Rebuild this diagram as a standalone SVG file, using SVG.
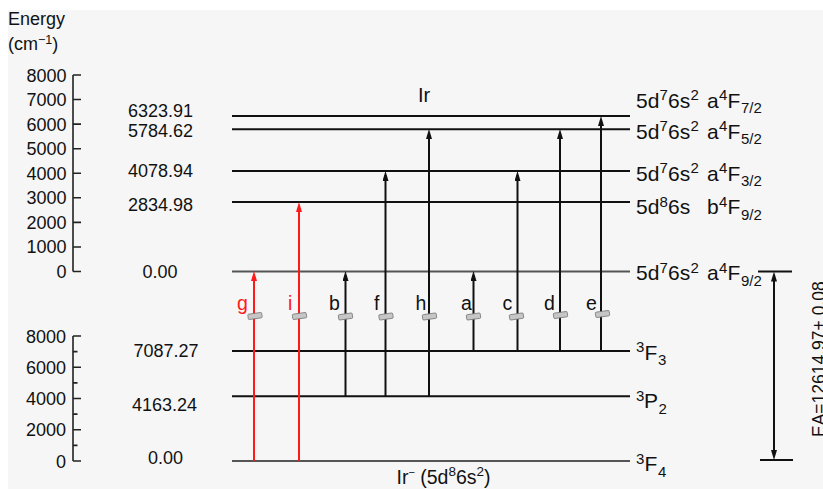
<svg xmlns="http://www.w3.org/2000/svg" width="823" height="489" viewBox="0 0 823 489">
<style>
text{font-family:"Liberation Sans",Arial,sans-serif;fill:#111}
.ax{stroke:#222;stroke-width:1.6;fill:none}
.tk{font-size:18px;text-anchor:end}
.val{font-size:18px;text-anchor:middle}
.lvl{stroke:#111;stroke-width:2}
.zero{stroke:#555;stroke-width:1.8}
.lab{font-size:21px}
.sm{font-size:15px}
.tr{stroke:#111;stroke-width:2;fill:none;marker-end:url(#ah)}
.red{stroke:#ff1a1a;marker-end:url(#ahr)}
.tl{font-size:19.5px}
.brk{fill:#c6c6c6;stroke:#777;stroke-width:0.8}
</style>
<defs>
<marker id="ah" viewBox="0 0 10 6" refX="6" refY="3" markerWidth="10" markerHeight="6" orient="auto-start-reverse" markerUnits="userSpaceOnUse"><path d="M0,0 L10,3 L0,6 z" fill="#111"/></marker>
<marker id="ahr" viewBox="0 0 10 6" refX="6" refY="3" markerWidth="10" markerHeight="6" orient="auto" markerUnits="userSpaceOnUse"><path d="M0,0 L10,3 L0,6 z" fill="#ff1a1a"/></marker>
<rect id="brkshape" class="brk" x="-7" y="-2.7" width="14" height="5.4" rx="1" transform="rotate(-8)"/>
</defs>
<rect x="8" y="10" width="815" height="479" fill="#f6f6f6"/>

<g id="axis-upper">
<text x="8" y="24.5" style="font-size:18px">Energy</text>
<text x="8" y="50" style="font-size:18px">(cm<tspan dy="-6" style="font-size:12.5px">−1</tspan><tspan dy="6">)</tspan></text>
<path class="ax" d="M73,75V271.5M73,75H81M73,99.56H81M73,124.13H81M73,148.69H81M73,173.25H81M73,197.81H81M73,222.38H81M73,246.94H81M73,271.5H81"/>
<text class="tk" x="66.5" y="81.5">8000</text>
<text class="tk" x="66.5" y="106">7000</text>
<text class="tk" x="66.5" y="130.6">6000</text>
<text class="tk" x="66.5" y="155.2">5000</text>
<text class="tk" x="66.5" y="179.8">4000</text>
<text class="tk" x="66.5" y="204.3">3000</text>
<text class="tk" x="66.5" y="228.9">2000</text>
<text class="tk" x="66.5" y="253.4">1000</text>
<text class="tk" x="66.5" y="278">0</text>
</g>

<g id="axis-lower">
<path class="ax" d="M73,336V461M73,336H81M73,367.25H81M73,398.5H81M73,429.75H81M73,461H81M73,351.6H77.5M73,382.9H77.5M73,414.1H77.5M73,445.4H77.5"/>
<text class="tk" x="66" y="342.5">8000</text>
<text class="tk" x="66" y="373.8">6000</text>
<text class="tk" x="66" y="405">4000</text>
<text class="tk" x="66" y="436.3">2000</text>
<text class="tk" x="66" y="467.5">0</text>
</g>

<text x="424" y="101.5" style="font-size:20px;text-anchor:middle">Ir</text>
<text x="396.5" y="483.5" style="font-size:19.5px">Ir<tspan dy="-8" style="font-size:11px">−</tspan><tspan dy="8"> (5d</tspan><tspan dy="-7.5" style="font-size:13.5px">8</tspan><tspan dy="7.5">6s</tspan><tspan dy="-7.5" style="font-size:13.5px">2</tspan><tspan dy="7.5">)</tspan></text>

<g id="level-a4F7-2">
<line class="lvl" x1="232" y1="116" x2="630" y2="116"/>
<text class="val" x="160.5" y="117">6323.91</text>
<text class="lab" y="107.5"><tspan x="636">5d</tspan><tspan x="659.5" dy="-7.5" class="sm">7</tspan><tspan x="668" dy="7.5">6s</tspan><tspan x="690.5" dy="-7.5" class="sm">2</tspan><tspan x="707" dy="7.5">a</tspan><tspan x="719" dy="-7.5" class="sm">4</tspan><tspan x="727.5" dy="7.5">F</tspan><tspan x="741" dy="5.5" class="sm">7/2</tspan></text>
</g>
<g id="level-a4F5-2">
<line class="lvl" x1="232" y1="129.3" x2="630" y2="129.3"/>
<text class="val" x="160.5" y="137">5784.62</text>
<text class="lab" y="138.5"><tspan x="636">5d</tspan><tspan x="659.5" dy="-7.5" class="sm">7</tspan><tspan x="668" dy="7.5">6s</tspan><tspan x="690.5" dy="-7.5" class="sm">2</tspan><tspan x="707" dy="7.5">a</tspan><tspan x="719" dy="-7.5" class="sm">4</tspan><tspan x="727.5" dy="7.5">F</tspan><tspan x="741" dy="5.5" class="sm">5/2</tspan></text>
</g>
<g id="level-a4F3-2">
<line class="lvl" x1="232" y1="171" x2="630" y2="171"/>
<text class="val" x="160.5" y="177">4078.94</text>
<text class="lab" y="180.5"><tspan x="636">5d</tspan><tspan x="659.5" dy="-7.5" class="sm">7</tspan><tspan x="668" dy="7.5">6s</tspan><tspan x="690.5" dy="-7.5" class="sm">2</tspan><tspan x="707" dy="7.5">a</tspan><tspan x="719" dy="-7.5" class="sm">4</tspan><tspan x="727.5" dy="7.5">F</tspan><tspan x="741" dy="5.5" class="sm">3/2</tspan></text>
</g>
<g id="level-b4F9-2">
<line class="lvl" x1="232" y1="202" x2="630" y2="202"/>
<text class="val" x="160.5" y="211">2834.98</text>
<text class="lab" y="214"><tspan x="636">5d</tspan><tspan x="659.5" dy="-7.5" class="sm">8</tspan><tspan x="668" dy="7.5">6s</tspan><tspan x="707">b</tspan><tspan x="719" dy="-7.5" class="sm">4</tspan><tspan x="727.5" dy="7.5">F</tspan><tspan x="741" dy="5.5" class="sm">9/2</tspan></text>
</g>
<g id="level-a4F9-2">
<line class="zero" x1="232" y1="271.5" x2="630" y2="271.5"/>
<text class="val" x="160" y="278">0.00</text>
<text class="lab" y="280"><tspan x="636">5d</tspan><tspan x="659.5" dy="-7.5" class="sm">7</tspan><tspan x="668" dy="7.5">6s</tspan><tspan x="690.5" dy="-7.5" class="sm">2</tspan><tspan x="707" dy="7.5">a</tspan><tspan x="719" dy="-7.5" class="sm">4</tspan><tspan x="727.5" dy="7.5">F</tspan><tspan x="741" dy="5.5" class="sm">9/2</tspan></text>
</g>
<g id="level-3F3">
<line class="lvl" x1="232" y1="351" x2="630" y2="351"/>
<text class="val" x="166" y="357">7087.27</text>
<text class="lab" y="359.5"><tspan x="636" dy="-7.5" class="sm">3</tspan><tspan x="644.5" dy="7.5">F</tspan><tspan x="658" dy="5.5" class="sm">3</tspan></text>
</g>
<g id="level-3P2">
<line class="lvl" x1="232" y1="396.3" x2="630" y2="396.3"/>
<text class="val" x="164.5" y="411">4163.24</text>
<text class="lab" y="408"><tspan x="636" dy="-7.5" class="sm">3</tspan><tspan x="644" dy="7.5">P</tspan><tspan x="658.5" dy="5.5" class="sm">2</tspan></text>
</g>
<g id="level-3F4">
<line class="zero" x1="232" y1="461" x2="630" y2="461"/>
<text class="val" x="165.5" y="464">0.00</text>
<text class="lab" y="471"><tspan x="636" dy="-7.5" class="sm">3</tspan><tspan x="644.5" dy="7.5">F</tspan><tspan x="658" dy="5.5" class="sm">4</tspan></text>
</g>

<g id="connectors">
<line class="tr red" x1="254" y1="461" x2="254" y2="275"/>
<line class="tr red" x1="299" y1="461" x2="299" y2="206"/>
<line class="tr" x1="345.5" y1="396.3" x2="345.5" y2="275"/>
<line class="tr" x1="385.5" y1="396.3" x2="385.5" y2="175"/>
<line class="tr" x1="429" y1="396.3" x2="429" y2="133"/>
<line class="tr" x1="473.5" y1="351" x2="473.5" y2="275"/>
<line class="tr" x1="517.5" y1="351" x2="517.5" y2="175"/>
<line class="tr" x1="560" y1="351" x2="560" y2="133"/>
<line class="tr" x1="601" y1="351" x2="601" y2="120"/>
<use href="#brkshape" x="255" y="316"/>
<use href="#brkshape" x="299.5" y="316"/>
<use href="#brkshape" x="345.5" y="316.5"/>
<use href="#brkshape" x="386" y="316.5"/>
<use href="#brkshape" x="429.5" y="316.5"/>
<use href="#brkshape" x="473.5" y="316.5"/>
<use href="#brkshape" x="516.5" y="316.5"/>
<use href="#brkshape" x="560.5" y="315"/>
<use href="#brkshape" x="602.5" y="314"/>
<text class="tl" x="237" y="310" style="fill:#ff1a1a">g</text>
<text class="tl" x="288" y="310" style="fill:#ff1a1a">i</text>
<text class="tl" x="329" y="310">b</text>
<text class="tl" x="374" y="310">f</text>
<text class="tl" x="415.5" y="310">h</text>
<text class="tl" x="461" y="310">a</text>
<text class="tl" x="502.5" y="310">c</text>
<text class="tl" x="544" y="310">d</text>
<text class="tl" x="586" y="310">e</text>
</g>

<g id="ea">
<path class="ax" style="stroke:#111;stroke-width:2" d="M758,271.5H792M760,460H793"/>
<line x1="774" y1="275.5" x2="774" y2="456" style="stroke:#111;stroke-width:2;marker-start:url(#ah);marker-end:url(#ah)"/>
<text transform="translate(825,437) rotate(-90)" style="font-size:17.5px">EA=12614.97+ 0.08</text>
</g>
</svg>
